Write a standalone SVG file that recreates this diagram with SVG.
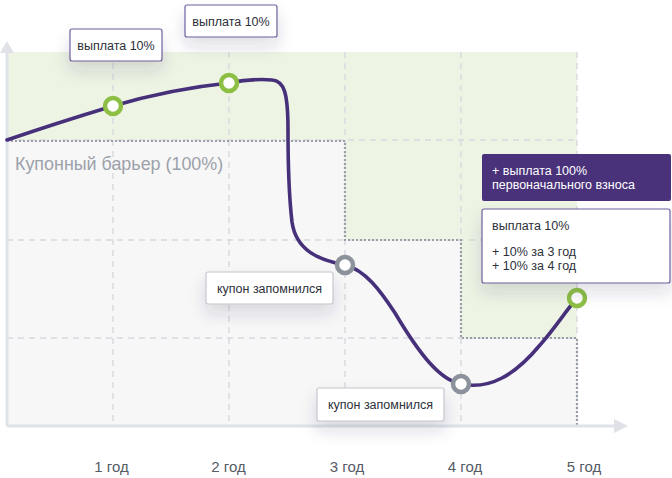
<svg xmlns="http://www.w3.org/2000/svg" width="672" height="478" viewBox="0 0 672 478">
  <defs>
    <filter id="sh" x="-30%" y="-40%" width="160%" height="220%">
      <feDropShadow dx="0" dy="9" stdDeviation="8" flood-color="#27304a" flood-opacity="0.15"/>
    </filter>
  </defs>
  <style>
    text { font-family: "Liberation Sans", Arial, sans-serif; }
    .grid { stroke: #d6d9de; stroke-width: 1.4; stroke-dasharray: 6 5; fill: none; }
    .dot { stroke: #9a9ea6; stroke-width: 2.2; stroke-dasharray: 2 2; fill: none; }
    .axis { stroke: #dfe2e7; stroke-width: 3; fill: none; }
    .axhead { fill: #dfe2e7; }
    .curve { stroke: #46307a; stroke-width: 3.6; fill: none; stroke-linecap: round; }
    .pg { fill: #ffffff; stroke: #8dbf45; stroke-width: 4.5; }
    .pgr { fill: #ffffff; stroke: #8c929b; stroke-width: 4.5; }
    .box { fill: #ffffff; stroke: #6f5f9f; stroke-width: 1.2; filter: url(#sh); }
    .boxg { fill: #ffffff; stroke: #c2c6cd; stroke-width: 1.2; filter: url(#sh); }
    .lbl { font-size: 12.5px; fill: #2d3039; }
    .lblw { font-size: 12.5px; fill: #ffffff; }
    .yr { font-size: 15px; fill: #565b66; text-anchor: middle; }
  </style>

  <!-- background areas -->
  <g id="plot-area">
    <rect x="7" y="52" width="570" height="373" fill="#f7f7f8"/>
    <path d="M7,52 H577 V338 H461 V240 H345 V140 H7 Z" fill="#eef4e4"/>
  </g>

  <!-- grid -->
  <g id="grid">
    <line class="grid" x1="113" y1="52" x2="113" y2="425"/>
    <line class="grid" x1="229" y1="52" x2="229" y2="425"/>
    <line class="grid" x1="345" y1="52" x2="345" y2="425"/>
    <line class="grid" x1="461" y1="52" x2="461" y2="425"/>
    <line class="grid" x1="577" y1="52" x2="577" y2="425"/>
    <line class="grid" x1="7" y1="140" x2="577" y2="140"/>
    <line class="grid" x1="7" y1="240" x2="577" y2="240"/>
    <line class="grid" x1="7" y1="338" x2="577" y2="338"/>
  </g>

  <!-- coupon barrier staircase -->
  <g id="barrier">
    <path class="dot" d="M7,141 H345 V240 H461 V338 H577 V425"/>
    <text x="15" y="170" font-size="17.9" fill="#9ca1a9">Купонный барьер (100%)</text>
  </g>

  <!-- axes -->
  <g id="axes">
    <line class="axis" x1="7" y1="52" x2="7" y2="426"/>
    <line class="axis" x1="7" y1="426" x2="615" y2="426"/>
    <polygon class="axhead" points="7,41 14,53 0,53"/>
    <polygon class="axhead" points="628,426 614,419 614,433"/>
  </g>

  <!-- connectors (curve) -->
  <g id="connectors">
    <path class="curve" d="M7,140 C45,127 80,116 113,106 C150,95 190,87 229,83 C245,80 262,79 272,80 C284,81 288,92 288,130 C288,170 290,205 292,222 C296,250 318,260 345,265 C365,270 380,290 395,313 C420,355 440,380 461,384 C490,390 515,375 540,345 C555,328 565,312 577,298"/>
  </g>

  <!-- points -->
  <g id="p1"><circle class="pg" cx="113" cy="106" r="8"/></g>
  <g id="p2"><circle class="pg" cx="229" cy="83" r="8"/></g>
  <g id="p3"><circle class="pgr" cx="345" cy="265" r="8"/></g>
  <g id="p4"><circle class="pgr" cx="461" cy="384" r="8"/></g>
  <g id="p5"><circle class="pg" cx="577" cy="298" r="8"/></g>

  <!-- labels -->
  <g id="label-pay1">
    <rect class="box" x="70" y="29" width="92" height="32" rx="2"/>
    <text class="lbl" x="116" y="49.5" text-anchor="middle">выплата 10%</text>
  </g>
  <g id="label-pay2">
    <rect class="box" x="185" y="5" width="92" height="32" rx="2"/>
    <text class="lbl" x="231" y="26" text-anchor="middle">выплата 10%</text>
  </g>
  <g id="label-mem1">
    <rect class="boxg" x="206" y="272" width="127" height="32" rx="2"/>
    <text class="lbl" x="269.5" y="292.5" text-anchor="middle">купон запомнился</text>
  </g>
  <g id="label-mem2">
    <rect class="boxg" x="317" y="388" width="127" height="33" rx="2"/>
    <text class="lbl" x="380.5" y="409" text-anchor="middle">купон запомнился</text>
  </g>
  <g id="label-final">
    <rect x="482" y="154" width="189" height="47" rx="2" fill="#4a327b"/>
    <text class="lblw" x="492" y="174.5">+ выплата 100%</text>
    <text class="lblw" x="492" y="188.5">первоначального взноса</text>
    <rect class="box" x="482" y="209" width="188" height="74" rx="2"/>
    <text class="lbl" x="492" y="229.5">выплата 10%</text>
    <text class="lbl" x="492" y="256">+ 10% за 3 год</text>
    <text class="lbl" x="492" y="270">+ 10% за 4 год</text>
  </g>

  <!-- year labels -->
  <g id="years">
    <text class="yr" x="111.5" y="472">1 год</text>
    <text class="yr" x="228.5" y="472">2 год</text>
    <text class="yr" x="347" y="472">3 год</text>
    <text class="yr" x="465" y="472">4 год</text>
    <text class="yr" x="584" y="472">5 год</text>
  </g>
</svg>
